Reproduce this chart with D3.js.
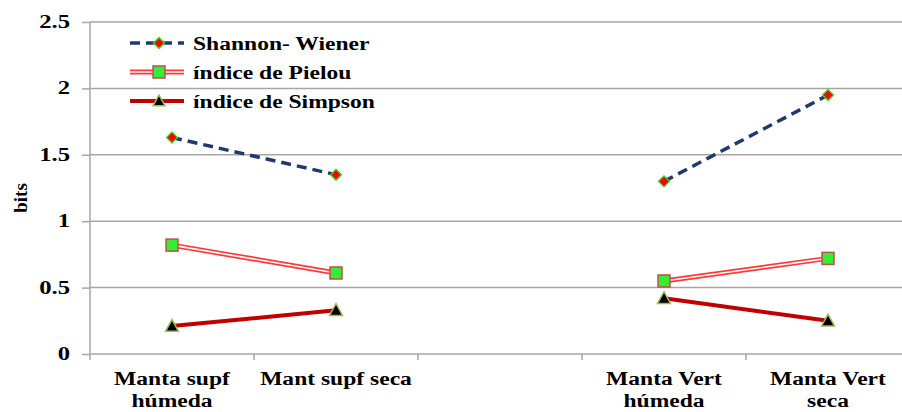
<!DOCTYPE html>
<html><head><meta charset="utf-8">
<script src="https://cdn.jsdelivr.net/npm/d3@7"></script>
</head><body style="margin:0"><svg id="c" width="902" height="412" font-family="Liberation Serif" font-weight="bold"></svg>
<script>
const categories = ["Manta supf|húmeda", "Mant supf seca", "", "Manta Vert|húmeda", "Manta Vert|seca"];
const shannon = [1.63, 1.35, null, 1.30, 1.95];
const pielou = [0.82, 0.61, null, 0.55, 0.72];
const simpson = [0.21, 0.33, null, 0.42, 0.25];
const yTicks = [0, 0.5, 1, 1.5, 2, 2.5];
const seriesNames = ["Shannon- Wiener", "índice de Pielou", "índice de Simpson"];

function addText(parent, px, py, str, size, sx, anchor) {
  return parent.append("text")
    .attr("transform", `translate(${px},${py}) scale(${sx},1)`)
    .attr("text-anchor", anchor || "start")
    .attr("font-family", "Liberation Serif").attr("font-weight", "bold").attr("font-size", size)
    .style("font-family", "Liberation Serif").style("font-weight", "bold")
    .style("font-size", size + "px").text(str);
}

const svg = d3.select("#c");
const L = 90, R = 910, T = 22, B = 354;
const x = d3.scaleBand().domain(d3.range(categories.length)).range([L, R]);
const y = d3.scaleLinear().domain([0, 2.5]).range([B, T]);
const cx = i => x(i) + x.bandwidth() / 2;

svg.append("g").selectAll("line").data(yTicks.slice(1)).join("line")
  .attr("x1", L).attr("x2", R).attr("y1", d => y(d)).attr("y2", d => y(d))
  .attr("stroke", "#a6a6a6").attr("stroke-width", 1.5);

const ya = svg.append("g").attr("transform", `translate(${L},0)`)
  .call(d3.axisLeft(y).tickValues(yTicks).tickSize(8).tickFormat(""));
ya.attr("font-family", "Liberation Serif");
ya.select(".domain").attr("stroke", "#a6a6a6").attr("stroke-width", 1.5).attr("d", `M0,${T}V${B}`);
ya.selectAll(".tick line").attr("stroke", "#a6a6a6").attr("stroke-width", 1.5);
ya.selectAll(".tick text").remove();
yTicks.forEach(t => addText(svg, 70, y(t) + 6, String(t), 19, 1.3, "end"));

const xa = svg.append("g").attr("transform", `translate(0,${B})`);
xa.append("line").attr("x1", L).attr("x2", R).attr("stroke", "#a6a6a6").attr("stroke-width", 1.5);
xa.selectAll(".tk").data(d3.range(categories.length + 1)).join("line")
  .attr("x1", i => i < categories.length ? x(i) : R).attr("x2", i => i < categories.length ? x(i) : R)
  .attr("y1", 0).attr("y2", 6).attr("stroke", "#a6a6a6").attr("stroke-width", 1.5);
categories.forEach((c, i) => {
  if (!c) return;
  c.split("|").forEach((ln, k) => addText(xa, cx(i), 31 + k * 22, ln, 19, 1.24, "middle"));
});

svg.append("text").attr("transform", "translate(27,198) rotate(-90)").attr("text-anchor", "middle")
  .attr("font-family", "Liberation Serif").attr("font-weight", "bold").attr("font-size", 19)
  .style("font-family", "Liberation Serif").style("font-weight", "bold").style("font-size", "19px").text("bits");

const pp = d3.line().defined(d => d != null).x((d,i)=>cx(i)).y(d=>y(d));
svg.append("path").datum(shannon).attr("d", pp)
  .attr("fill", "none").attr("stroke", "#1f3a6e").attr("stroke-width", 3.5).attr("stroke-dasharray", "10,6");
svg.append("path").datum(pielou).attr("d", pp).attr("fill", "none").attr("stroke", "#ff3838").attr("stroke-width", 5);
svg.append("path").datum(pielou).attr("d", pp).attr("fill", "none").attr("stroke", "#fff").attr("stroke-width", 1.6);
svg.append("path").datum(simpson).attr("d", pp).attr("fill", "none").attr("stroke", "#c00000").attr("stroke-width", 4);

function diamond(g, px, py, s) {
  g.append("path").attr("d", `M${px},${py-s}L${px+s},${py}L${px},${py+s}L${px-s},${py}Z`)
    .attr("fill", "#ff0000").attr("stroke", "#33dd33").attr("stroke-width", 1.3);
}
function square(g, px, py, s) {
  g.append("rect").attr("x", px-s).attr("y", py-s).attr("width", 2*s).attr("height", 2*s)
    .attr("fill", "#33ee33").attr("stroke", "#c0504d").attr("stroke-width", 1.5);
}
function tri(g, px, py, s) {
  g.append("path").attr("d", `M${px},${py-s}L${px+s},${py+s*0.8}L${px-s},${py+s*0.8}Z`)
    .attr("fill", "#000").attr("stroke", "#9bbb59").attr("stroke-width", 1.5);
}
const mk = svg.append("g");
shannon.forEach((v,i) => { if (v != null) diamond(mk, cx(i), y(v), 5.5); });
pielou.forEach((v,i) => { if (v != null) square(mk, cx(i), y(v), 6); });
simpson.forEach((v,i) => { if (v != null) tri(mk, cx(i), y(v), 6.5); });

const lg = svg.append("g");
const ly = [43, 72, 101];
const lx0 = 130, lx1 = 184, lm = 159;
lg.append("line").attr("x1", lx0).attr("x2", lx1).attr("y1", ly[0]).attr("y2", ly[0])
  .attr("stroke", "#1f3a6e").attr("stroke-width", 3.5).attr("stroke-dasharray", "10,6");
diamond(lg, lm, ly[0], 5.5);
lg.append("line").attr("x1", lx0).attr("x2", lx1).attr("y1", ly[1]).attr("y2", ly[1]).attr("stroke", "#ff3838").attr("stroke-width", 5);
lg.append("line").attr("x1", lx0).attr("x2", lx1).attr("y1", ly[1]).attr("y2", ly[1]).attr("stroke", "#fff").attr("stroke-width", 1.6);
square(lg, lm, ly[1], 6);
lg.append("line").attr("x1", lx0).attr("x2", lx1).attr("y1", ly[2]).attr("y2", ly[2]).attr("stroke", "#c00000").attr("stroke-width", 4);
tri(lg, lm, ly[2], 6);
seriesNames.forEach((n, k) => addText(lg, 193, ly[k] + 7, n, 19, 1.24, "start"));
</script></body></html>
